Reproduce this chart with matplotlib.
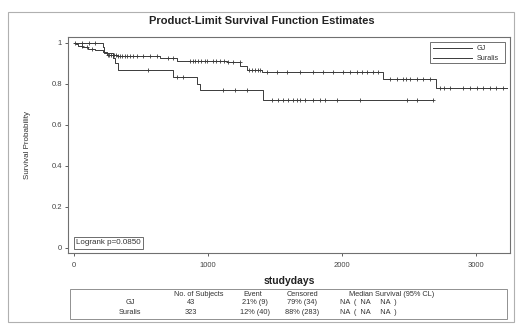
import numpy as np
import matplotlib
matplotlib.use("Agg")
import matplotlib.pyplot as plt
from matplotlib.patches import Rectangle

plt.rcParams['font.family'] = ['Liberation Sans', 'DejaVu Sans']

# ---------------- data ----------------
title = "Product-Limit Survival Function Estimates"
groups = ["GJ", "Suralis"]

gj_step_days = [214, 225, 289, 305, 331, 741, 915, 940, 1413]
gj_step_surv = [0.976, 0.951, 0.925, 0.898, 0.864, 0.832, 0.800, 0.767, 0.722]
gj_censor_days = [10, 60, 110, 160, 552, 766, 816, 1112, 1201, 1291,
                  1475, 1525, 1562, 1600, 1637, 1662, 1687, 1724, 1786,
                  1836, 1873, 1960, 2134, 2483, 2557, 2681]
gj_end_day = 2681

su_step_days = [12, 30, 60, 104, 160, 216, 246, 330, 640, 770, 1140,
                1240, 1290, 1400, 2306, 2706]
su_step_surv = [0.991, 0.985, 0.978, 0.969, 0.962, 0.953, 0.940, 0.934,
                0.926, 0.912, 0.904, 0.884, 0.866, 0.858, 0.822, 0.781]
su_censor_days = [57, 95, 132, 250, 262, 275, 290, 300, 312, 330, 345, 360,
                  380, 395, 418, 440, 470, 515, 567, 619, 700, 740, 866, 885,
                  905, 925, 950, 975, 993, 1037, 1060, 1090, 1120, 1150, 1187,
                  1239, 1310, 1330, 1350, 1370, 1390, 1438, 1512, 1587, 1687,
                  1786, 1860, 1935, 2010, 2060, 2110, 2150, 2190, 2230, 2270,
                  2358, 2408, 2458, 2480, 2507, 2557, 2607, 2657, 2731, 2760,
                  2806, 2905, 2955, 3005, 3055, 3104, 3154, 3204]
su_end_day = 3230

x_ticks = [0, 1000, 2000, 3000]
y_ticks = [0, 0.2, 0.4, 0.6, 0.8, 1.0]
y_tick_labels = ["0", "0.2", "0.4", "0.6", "0.8", "1"]
xlabel = "studydays"
ylabel = "Survival Probability"
logrank_text = "Logrank p=0.0850"

table_header = ["No. of Subjects", "Event", "Censored", "Median Survival (95% CL)"]
n_subjects = ["43", "323"]
events_txt = ["21% (9)", "12% (40)"]
censored_txt = ["79% (34)", "88% (283)"]
median_txt = ["NA  (  NA     NA  )", "NA  (  NA     NA  )"]

# ---------------- figure ----------------
W, H = 516, 325
fig = plt.figure(figsize=(W / 100, H / 100), dpi=100)

def fx(px):
    return px / W

def fy(py):
    return 1 - py / H

# outer border
fig.patches.append(Rectangle((fx(8), fy(322)), fx(514) - fx(8), fy(12) - fy(322),
                             transform=fig.transFigure, fill=False,
                             edgecolor='#b0b0b0', linewidth=0.8))

ax = fig.add_axes([fx(68), fy(253), fx(510) - fx(68), fy(37) - fy(253)])
ax.set_xlim(-45, 3255)
ax.set_ylim(-0.025, 1.027)

line_color = '#3a3a3a'

def step_xy(days, surv, end):
    xs = [0]
    ys = [1.0]
    for d, s in zip(days, surv):
        xs += [d, d]
        ys += [ys[-1], s]
    xs.append(end)
    ys.append(ys[-1])
    return np.array(xs), np.array(ys)

def surv_at(days, surv, t):
    idx = np.searchsorted(np.array(days), np.array(t), side='right')
    vals = np.concatenate([[1.0], np.array(surv)])
    return vals[idx]

for days, surv, cens, end in [(gj_step_days, gj_step_surv, gj_censor_days, gj_end_day),
                              (su_step_days, su_step_surv, su_censor_days, su_end_day)]:
    xs, ys = step_xy(days, surv, end)
    ax.plot(xs, ys, color=line_color, linewidth=0.7)
    ax.plot(cens, surv_at(days, surv, cens), linestyle='none', marker='+',
            markersize=3.2, markeredgewidth=0.6, color=line_color)

ax.set_xticks(x_ticks)
ax.set_xticklabels([str(v) for v in x_ticks])
ax.set_yticks(y_ticks)
ax.set_yticklabels(y_tick_labels)
ax.tick_params(axis='both', labelsize=5.5, length=2.5, width=0.6,
               colors='#444444', pad=2)
ax.tick_params(axis='x', pad=4)
for sp in ax.spines.values():
    sp.set_color('#707070')
    sp.set_linewidth(0.8)

ax.set_xlabel(xlabel, fontsize=7.5, fontweight='bold', labelpad=5, color='#222222')
fig.text(fx(28), fy(145), ylabel, rotation=90, fontsize=5.8, ha='center',
         va='center', color='#333333')

fig.text(fx(262), fy(21), title, fontsize=8, fontweight='bold', ha='center',
         va='center', color='#222222')

# legend box
fig.patches.append(Rectangle((fx(430), fy(63)), fx(505) - fx(430), fy(42) - fy(63),
                             transform=fig.transFigure, fill=False,
                             edgecolor='#707070', linewidth=0.7))
for g, py in zip(groups, [48, 58]):
    fig.lines.append(plt.Line2D([fx(433), fx(472)], [fy(py), fy(py)],
                                transform=fig.transFigure, color=line_color,
                                linewidth=0.7))
    fig.text(fx(477), fy(py), g, fontsize=5.2, ha='left', va='center',
             color='#333333')

# logrank box
fig.text(fx(76), fy(243), logrank_text, fontsize=5.8, ha='left', va='center',
         color='#333333',
         bbox=dict(boxstyle='square,pad=0.25', facecolor='white',
                   edgecolor='#555555', linewidth=0.6))

# table
fig.patches.append(Rectangle((fx(70), fy(319)), fx(507) - fx(70), fy(289) - fy(319),
                             transform=fig.transFigure, fill=False,
                             edgecolor='#909090', linewidth=0.7))
col_x = [199, 253, 302, 392]
fs = 5.3
for txt, cx in zip(table_header, col_x):
    fig.text(fx(cx), fy(294), txt, fontsize=fs, ha='center', va='center', color='#333333')
for i, (g, py) in enumerate(zip(groups, [303, 312])):
    fig.text(fx(130), fy(py), g, fontsize=fs, ha='center', va='center', color='#333333')
    fig.text(fx(col_x[0] - 8), fy(py), n_subjects[i], fontsize=fs, ha='center', va='center', color='#333333')
    fig.text(fx(col_x[1] + 2), fy(py), events_txt[i], fontsize=fs, ha='center', va='center', color='#333333')
    fig.text(fx(col_x[2]), fy(py), censored_txt[i], fontsize=fs, ha='center', va='center', color='#333333')
    fig.text(fx(340), fy(py), median_txt[i], fontsize=fs, ha='left', va='center', color='#333333')

fig.savefig("out.png", dpi=100, facecolor='white')
